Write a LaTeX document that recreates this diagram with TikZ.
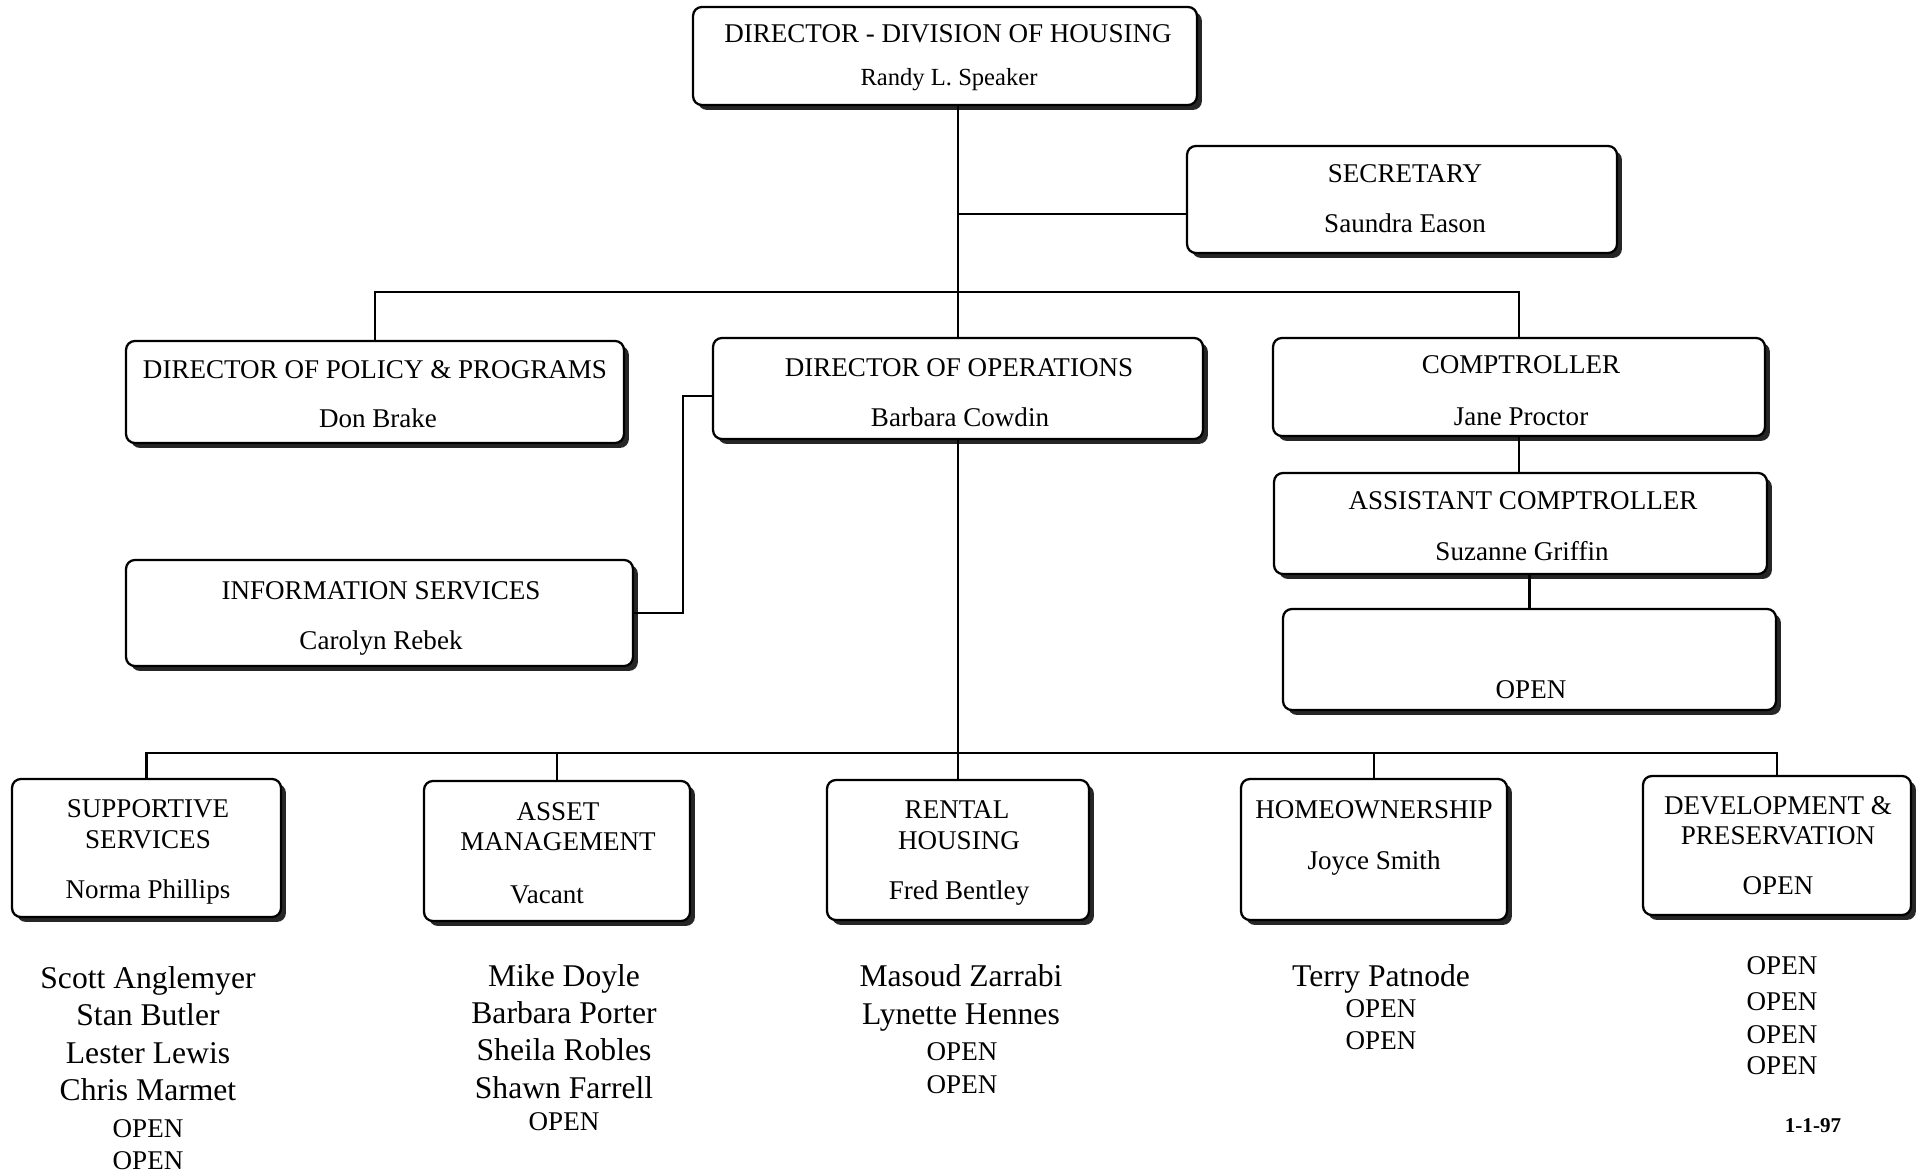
\documentclass[tikz,border=0pt]{standalone}
\usepackage{fontspec}
\setmainfont{Liberation Serif}
\usetikzlibrary{shadows}

\tikzset{
  post/.style={draw, line width=1.3pt, rounded corners=5pt, fill=white, inner sep=0pt,
    drop shadow={shadow xshift=2.8pt, shadow yshift=-2.8pt, fill=black!85, opacity=1}},
  ttl/.style={anchor=base, inner sep=0pt, font=\fontsize{15.4}{18}\selectfont},
  staff/.style={anchor=base, inner sep=0pt, font=\fontsize{18}{21}\selectfont},
  link/.style={line width=1.5pt}
}

\begin{document}
\begin{tikzpicture}[x=0.02cm, y=-0.02cm]
        \useasboundingbox (0,0) rectangle (1923,1172);
        % boxes
        \node[post, minimum width=10.08cm, minimum height=1.96cm] (dir) at (945,56) {};
        \node[post, minimum width=8.6cm, minimum height=2.14cm] (sec) at (1402,199.5) {};
        \node[post, minimum width=9.96cm, minimum height=2.04cm] (pol) at (375,392) {};
        \node[post, minimum width=9.8cm, minimum height=2.02cm] (ops) at (958,388.5) {};
        \node[post, minimum width=9.84cm, minimum height=1.96cm] (comp) at (1519,387) {};
        \node[post, minimum width=9.86cm, minimum height=2.02cm] (acomp) at (1520.5,523.5) {};
        \node[post, minimum width=9.86cm, minimum height=2.02cm] (aopen) at (1529.5,659.5) {};
        \node[post, minimum width=10.14cm, minimum height=2.12cm] (info) at (379.5,613) {};
        \node[post, minimum width=5.38cm, minimum height=2.76cm] (sup) at (146.5,848) {};
        \node[post, minimum width=5.32cm, minimum height=2.8cm] (asset) at (557,851) {};
        \node[post, minimum width=5.24cm, minimum height=2.8cm] (rent) at (958,850) {};
        \node[post, minimum width=5.32cm, minimum height=2.82cm] (home) at (1374,849.5) {};
        \node[post, minimum width=5.36cm, minimum height=2.78cm] (dev) at (1777,845.5) {};
        % junctions
        \coordinate (secj) at (957,214);
        \coordinate (bus1) at (957,292);
        \coordinate (infoj) at (683,396);
        \coordinate (bus2) at (959,753);
        % connectors
        \draw[link] (ops.north) -- (ops.north |- dir.south);
        \draw[link] (secj) -- (secj -| sec.west);
        \draw[link] (pol.north) |- (bus1) -| (comp.north);
        \draw[link] (comp.south) -- (comp.south |- acomp.north);
        \draw[link] (aopen.north) -- (aopen.north |- acomp.south);
        \draw[link] (infoj -| ops.west) -- (infoj) |- (info.east);
        \draw[link] (ops.south) -- (rent.north);
        \draw[link] (sup.north) |- (bus2) -| (dev.north);
        \draw[link] (asset.north) -- (asset.north |- bus2);
        \draw[link] (home.north) -- (home.north |- bus2);
        % box texts
        \node[ttl] (dir-t) at (948,43) {DIRECTOR - DIVISION OF HOUSING};
        \node[ttl, font=\fontsize{14}{16}\selectfont] (dir-n) at (949,86) {Randy L. Speaker};
        \node[ttl] (sec-t) at (1405,183) {SECRETARY};
        \node[ttl] (sec-n) at (1405,233) {Saundra Eason};
        \node[ttl] (pol-t) at (375,378) {DIRECTOR OF POLICY \& PROGRAMS};
        \node[ttl] (pol-n) at (378,427) {Don Brake};
        \node[ttl] (ops-t) at (959,377) {DIRECTOR OF OPERATIONS};
        \node[ttl] (ops-n) at (960,426) {Barbara Cowdin};
        \node[ttl] (comp-t) at (1521,374) {COMPTROLLER};
        \node[ttl] (comp-n) at (1521,425) {Jane Proctor};
        \node[ttl] (acomp-t) at (1523,509) {ASSISTANT COMPTROLLER};
        \node[ttl] (acomp-n) at (1522,560) {Suzanne Griffin};
        \node[ttl] (aopen-n) at (1531,698) {OPEN};
        \node[ttl] (info-t) at (381,599) {INFORMATION SERVICES};
        \node[ttl] (info-n) at (381,649) {Carolyn Rebek};
        \node[ttl] (sup-t1) at (148,817) {SUPPORTIVE};
        \node[ttl] (sup-t2) at (148,848) {SERVICES};
        \node[ttl] (sup-n) at (148,898) {Norma Phillips};
        \node[ttl] (asset-t1) at (558,820) {ASSET};
        \node[ttl] (asset-t2) at (558,850) {MANAGEMENT};
        \node[ttl] (asset-n) at (547,903) {Vacant};
        \node[ttl] (rent-t1) at (957,818) {RENTAL};
        \node[ttl] (rent-t2) at (959,849) {HOUSING};
        \node[ttl] (rent-n) at (959,899) {Fred Bentley};
        \node[ttl] (home-t) at (1374,818) {HOMEOWNERSHIP};
        \node[ttl] (home-n) at (1374,869) {Joyce Smith};
        \node[ttl] (dev-t1) at (1778,814) {DEVELOPMENT \&};
        \node[ttl] (dev-t2) at (1778,844) {PRESERVATION};
        \node[ttl] (dev-n) at (1778,894) {OPEN};
        % staff lists
        \foreach \t/\y [count=\i] in {Scott Anglemyer/988, Stan Butler/1025, Lester Lewis/1063, Chris Marmet/1100}
          \node[staff] (sup-s\i) at (148,\y) {\t};
        \foreach \y [count=\i] in {1137, 1169}
          \node[ttl] (sup-o\i) at (148,\y) {OPEN};
        \foreach \t/\y [count=\i] in {Mike Doyle/986, Barbara Porter/1023, Sheila Robles/1060, Shawn Farrell/1098}
          \node[staff] (asset-s\i) at (564,\y) {\t};
        \node[ttl] (asset-o1) at (564,1130) {OPEN};
        \foreach \t/\y [count=\i] in {Masoud Zarrabi/986, Lynette Hennes/1024}
          \node[staff] (rent-s\i) at (961,\y) {\t};
        \foreach \y [count=\i] in {1060, 1093}
          \node[ttl] (rent-o\i) at (962,\y) {OPEN};
        \node[staff] (home-s1) at (1381,986) {Terry Patnode};
        \foreach \y [count=\i] in {1017, 1049}
          \node[ttl] (home-o\i) at (1381,\y) {OPEN};
        \foreach \y [count=\i] in {974, 1010, 1043, 1074}
          \node[ttl] (dev-o\i) at (1782,\y) {OPEN};
        \node[anchor=base, inner sep=0pt, font=\bfseries\fontsize{12}{14}\selectfont] (date) at (1813,1132) {1-1-97};
    \end{tikzpicture}
\end{document}
